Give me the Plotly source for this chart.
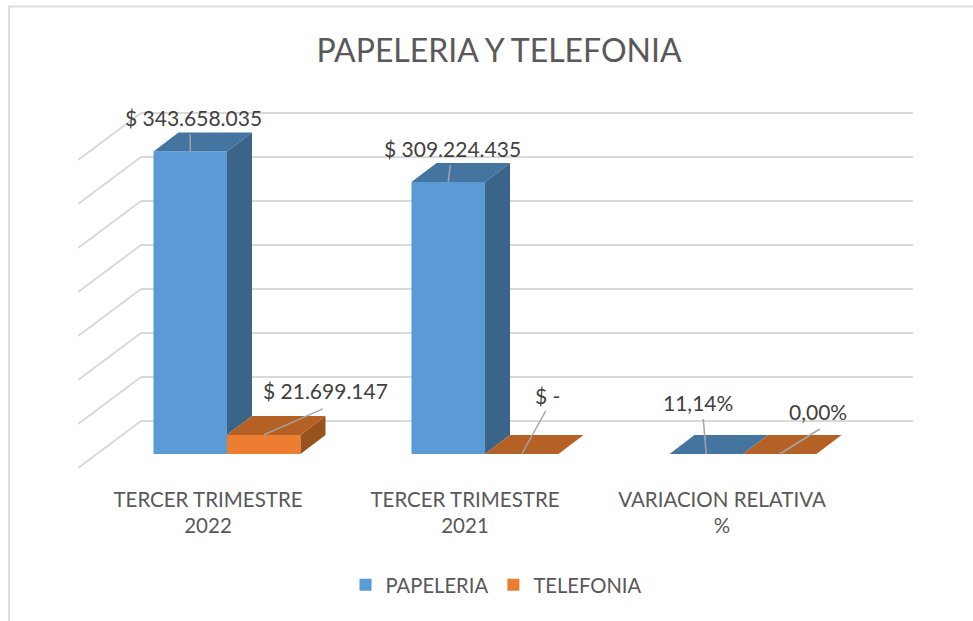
import plotly.graph_objects as go

categories = ["TERCER TRIMESTRE<br>2022", "TERCER TRIMESTRE<br>2021", "VARIACION RELATIVA<br>%"]
papeleria = [343658035, 309224435, 0.1114]
telefonia = [21699147, 0, 0]
papeleria_labels = ["$ 343.658.035", "$ 309.224.435", "11,14%"]
telefonia_labels = ["$ 21.699.147", "$ -", "0,00%"]
wall_ticks = [0, 50e6, 100e6, 150e6, 200e6, 250e6, 300e6, 350e6]

FONT = "Lato"
W, H = 973, 621
PX_X = 258.0          # px per category
PX_Y = 0.88e-6        # px per value unit
X0 = 208.0            # px of category 0
Y0 = 454.0            # px of value 0 (front plane)
M_B = 151             # bottom margin
plot_h = H - M_B


def ux(px):
    return px / PX_X


def uy(px):
    return px / PX_Y


BAR_W = ux(73.5)
SHIFT = ux(19)
DX, DY = ux(25), uy(19)

colors = {
    "PAPELERIA": dict(front="#5b9bd5", top="#4475a1", side="#3b6588"),
    "TELEFONIA": dict(front="#ed7d31", top="#b56024", side="#98521c"),
}

fig = go.Figure()
xs = list(range(len(categories)))

series = [("PAPELERIA", papeleria, -BAR_W, papeleria_labels, telefonia,
           [(0, -17), (2, -17), (-3, -35)], [(3, -34), (4, -33), (-8, -52)]),
          ("TELEFONIA", telefonia, 0.0, telefonia_labels, None,
           [(59, -26), (24, -43), (40, -25)], [(62, -44), (26, -59), (38, -43)])]

for name, vals, off, _, _, _, _ in series:
    fig.add_trace(go.Bar(
        x=xs, y=vals, name=name, width=BAR_W, offset=off + SHIFT,
        marker=dict(color=colors[name]["front"], line=dict(width=0)),
        hoverinfo="skip"))

for name, vals, off, labels, neighbour, _, _ in series:
    c = colors[name]
    for i, v in enumerate(vals):
        xl = xs[i] + SHIFT + off
        xr = xl + BAR_W
        if v > 1:
            # the side face starts above whatever stands next to the bar
            nv = neighbour[i] if neighbour else 0
            fig.add_trace(go.Scatter(
                x=[xr, xr + DX, xr + DX, xr, xr],
                y=[nv, nv + DY, v + DY, v, nv],
                mode="lines", fill="toself", fillcolor=c["side"],
                line=dict(width=0), showlegend=False, hoverinfo="skip"))
        fig.add_trace(go.Scatter(
            x=[xl, xr, xr + DX, xl + DX, xl],
            y=[v, v, v + DY, v + DY, v],
            mode="lines", fill="toself", fillcolor=c["top"],
            line=dict(width=0), showlegend=False, hoverinfo="skip"))

for name, vals, off, labels, _, leaders, text_off in series:
    for i, v in enumerate(vals):
        xc = xs[i] + SHIFT + off + BAR_W / 2
        lx, ly = leaders[i]
        fig.add_trace(go.Scatter(
            x=[xc, xc + ux(lx)], y=[v, v - uy(ly)], mode="lines",
            line=dict(color="#a6a6a6", width=1.5),
            showlegend=False, hoverinfo="skip"))
        tx, ty = text_off[i]
        fig.add_annotation(
            x=xc, y=v, xref="x", yref="y", text=labels[i], showarrow=False,
            xshift=tx, yshift=-ty, xanchor="center", yanchor="middle",
            font=dict(family=FONT, size=21, color="#404040"))

# back wall grid and side wall diagonals
WALL_SHIFT = uy(33)
WALL_DY = uy(47)
wx_front, wx_back, wx_end = ux(78 - X0), ux(141 - X0), ux(913 - X0)
grid = dict(color="#d9d9d9", width=2)
for t in wall_ticks:
    yb = t + WALL_SHIFT
    fig.add_shape(type="line", layer="below", xref="x", yref="y",
                  x0=wx_back, x1=wx_end, y0=yb, y1=yb, line=grid)
    fig.add_shape(type="line", layer="below", xref="x", yref="y",
                  x0=wx_front, x1=wx_back, y0=yb - WALL_DY, y1=yb, line=grid)

# chart frame
frame = dict(color="#dedede", width=2)
fig.add_shape(type="line", xref="x", yref="paper", x0=ux(9 - X0), x1=ux(W - X0),
              y0=1 - 6.5 / plot_h, y1=1 - 6.5 / plot_h, line=frame)
fig.add_shape(type="line", xref="x", yref="paper", x0=ux(9 - X0), x1=ux(9 - X0),
              y0=-M_B / plot_h, y1=1 - 5.5 / plot_h, line=frame)

TICK_STEP = 257 / PX_X

fig.update_layout(
    width=W, height=H, autosize=False, barmode="overlay",
    margin=dict(l=0, r=0, t=0, b=M_B),
    paper_bgcolor="white", plot_bgcolor="white",
    title=dict(text="PAPELERIA Y TELEFONIA", x=499 / W, xanchor="center",
               y=1 - 51 / H, yanchor="middle",
               font=dict(family=FONT, size=32, color="#595959")),
    xaxis=dict(range=[ux(-X0), ux(W - X0)], tickmode="array",
               tickvals=[i * TICK_STEP for i in xs],
               ticktext=categories, showgrid=False, zeroline=False,
               showline=False, ticks="", ticklabelstandoff=15,
               tickfont=dict(family=FONT, size=20.5, color="#595959")),
    yaxis=dict(range=[uy(Y0 - plot_h), uy(Y0)], visible=False),
    legend=dict(orientation="h", x=496 / W, xanchor="center",
                y=-(565 - plot_h) / plot_h, yanchor="top",
                font=dict(family=FONT, size=20.2, color="#595959"),
                bgcolor="rgba(0,0,0,0)"),
    showlegend=True,
)
fig.write_html("out.html", config=dict(displayModeBar=False),
               post_script="document.body.style.margin='0';document.body.style.overflow='hidden';")
